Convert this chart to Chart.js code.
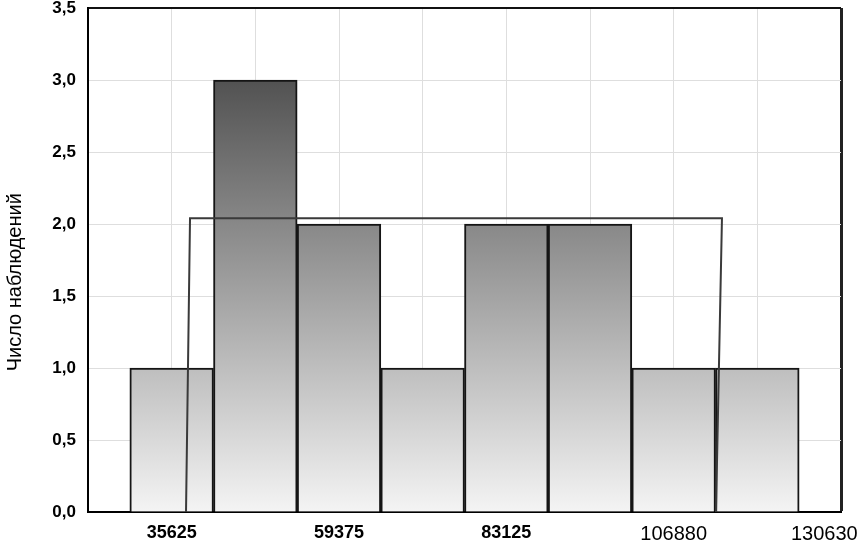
<!DOCTYPE html>
<html lang="ru">
<head>
<meta charset="utf-8">
<title>Гистограмма</title>
<script src="https://cdn.jsdelivr.net/npm/chart.js@4.4.1/dist/chart.umd.min.js"></script>
<style>
  html, body { margin: 0; padding: 0; background: #fff; }
  #wrap { width: 857px; height: 544px; position: relative; }
</style>
</head>
<body>
<div id="wrap"><canvas id="hist"></canvas></div>
<script>
// ---------- Data ----------

const binCenters = [35625, 47500, 59375, 71250, 83125, 95000, 106875, 118750];
const counts     = [1, 3, 2, 1, 2, 2, 1, 1];

// x axis: one tick per bin, every second one labelled
const X_MIN = 23750;
const X_STEP = 11875;
const xTickLabels = ['', '35625', '', '59375', '', '83125', '', '106880', '', '130630'];
const X_MAX = X_MIN + X_STEP * (xTickLabels.length - 1);

const Y_MAX = 3.5;
const Y_STEP = 0.5;

// fitted (uniform) curve outline
const fitX = [37660, 38230, 113730, 112880];
const fitY = [0, 2.04, 2.04, 0];

const FONT = "'Liberation Sans', Arial, sans-serif";

// ---------- Helpers ----------

// gradient tied to the y scale: darker the higher the bar goes
function barFill(c) {
  const chart = c.chart;
  if (!chart.chartArea) return '#bbbbbb';
  const y = chart.scales.y;
  const g = chart.ctx.createLinearGradient(0, y.getPixelForValue(3), 0, y.getPixelForValue(0));
  g.addColorStop(0, '#525252');
  g.addColorStop(1, '#f4f4f4');
  return g;
}

const fmtY = (v) => v.toFixed(1).replace('.', ',');

// ---------- Chart ----------

new Chart(document.getElementById('hist'), {
  type: 'bar',
  data: {
    datasets: [
      {
        type: 'line',
        data: fitX.map((x, i) => ({ x, y: fitY[i] })),
        borderColor: '#3a3a3a',
        borderWidth: 2,
        pointRadius: 0,
        tension: 0,
        fill: false,
        order: 0,
      },
      {
        type: 'bar',
        data: binCenters.map((x, i) => ({ x, y: counts[i] })),
        backgroundColor: barFill,
        borderColor: '#151515',
        borderWidth: 2,
        barPercentage: 1,
        categoryPercentage: 1,
        order: 1,
      },
    ],
  },
  options: {
    responsive: true,
    maintainAspectRatio: false,
    animation: false,
    layout: { padding: { top: 8, right: 16, left: 0, bottom: 0 } },
    plugins: {
      legend: { display: false },
      tooltip: { enabled: false },
    },
    scales: {
      x: {
        type: 'linear',
        min: X_MIN,
        max: X_MAX,
        offset: false,
        afterBuildTicks: (s) => {
          s.ticks = xTickLabels.map((_, i) => ({ value: X_MIN + i * X_STEP }));
        },
        afterFit: (s) => {
          s.height = 32;
          s.paddingLeft = 0;
          s.paddingRight = 0;
        },
        ticks: {
          autoSkip: false,
          maxRotation: 0,
          padding: 10,
          color: '#000',
          // last label sits left of its tick in the original, pad it
          callback: (v, i) => xTickLabels[i] + (i === xTickLabels.length - 1 ? '      ' : ''),
          font: (c) => (c.index >= 7
            ? { family: FONT, size: 20, weight: 'normal' }
            : { family: FONT, size: 18, weight: 'bold' }),
        },
        grid: {
          offset: false,
          drawTicks: false,
          color: (c) => (c.tick && c.tick.value === X_MAX ? '#222' : '#dedede'),
          lineWidth: (c) => (c.tick && c.tick.value === X_MAX ? 3 : 1),
        },
        border: { color: '#000', width: 2 },
      },
      y: {
        min: 0,
        max: Y_MAX,
        afterFit: (s) => {
          s.width = 88;
          s.paddingTop = 0;
          s.paddingBottom = 0;
        },
        ticks: {
          stepSize: Y_STEP,
          padding: 12,
          color: '#000',
          font: { family: FONT, size: 17, weight: 'bold' },
          callback: (v) => fmtY(v),
        },
        grid: {
          drawTicks: false,
          color: (c) => (c.tick && c.tick.value === Y_MAX ? '#111' : '#dedede'),
          lineWidth: (c) => (c.tick && c.tick.value === Y_MAX ? 2 : 1),
        },
        border: { color: '#000', width: 2 },
        title: {
          display: true,
          text: 'Число наблюдений' + '\u00a0'.repeat(8),
          color: '#000',
          font: { family: FONT, size: 20 },
          padding: { top: 3, bottom: 0 },
        },
      },
    },
  },
});
</script>
</body>
</html>
